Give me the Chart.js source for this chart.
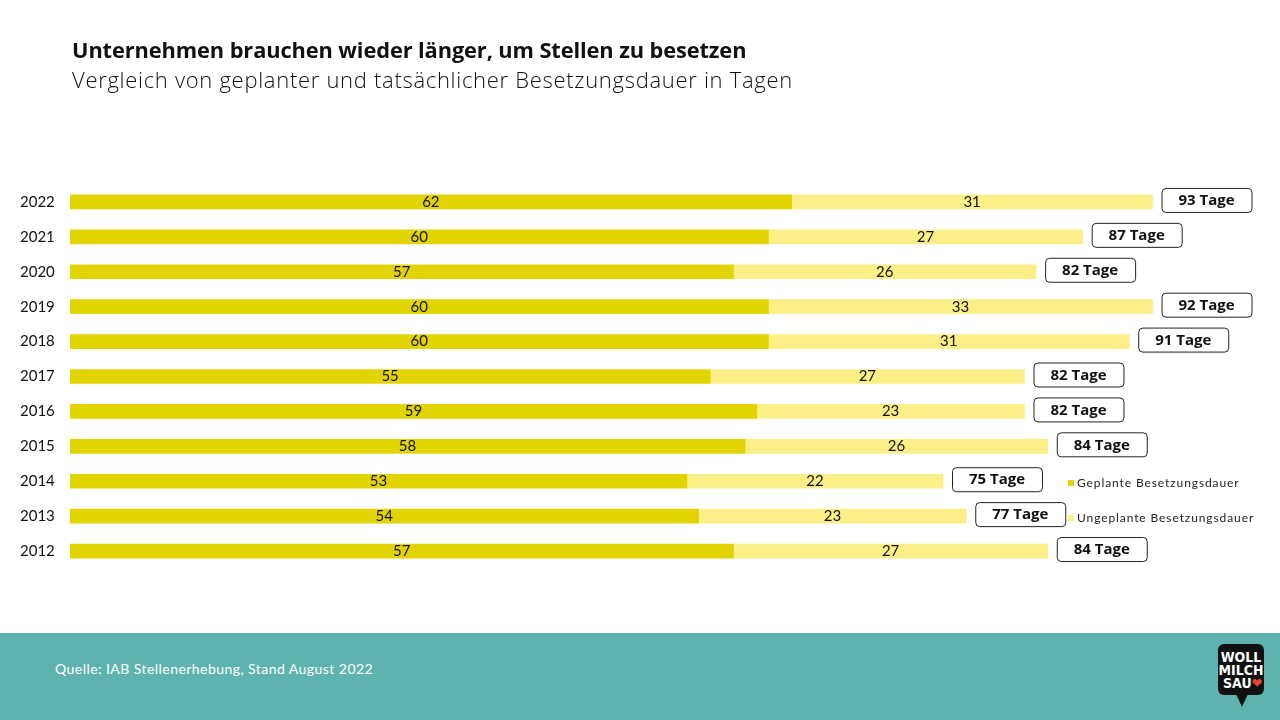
<!DOCTYPE html>
<html><head><meta charset="utf-8">
<script src="https://cdn.jsdelivr.net/npm/chart.js@4"></script>
<style>
html,body{margin:0;padding:0;background:#fff;}
#wrap{position:relative;width:1280px;height:720px;overflow:hidden;font-family:Lato,"Open Sans",sans-serif;}
#title{position:absolute;left:72px;top:35px;font-family:"Open Sans",sans-serif;font-size:21.8px;font-weight:700;color:#111;white-space:nowrap;letter-spacing:-0.1px;}
#subtitle{position:absolute;left:72px;top:64px;font-family:"Open Sans",sans-serif;font-size:22px;font-weight:300;color:#111;white-space:nowrap;letter-spacing:0.7px;}
#cv{position:absolute;left:0;top:0;}
#footer{position:absolute;left:0;top:633px;width:1280px;height:87px;background:#5fb3ae;}
#source{position:absolute;left:55px;top:27px;font-size:14px;color:#fff;letter-spacing:0.45px;}
#logo{position:absolute;left:1218px;top:11px;width:46px;height:51px;background:#111;border-radius:6px;}
#logo .t{position:absolute;left:0;width:46px;text-align:center;color:#fff;font-family:"Liberation Sans Narrow","DejaVu Sans Condensed",sans-serif;font-weight:700;font-size:14px;line-height:13px;}
#tail{position:absolute;left:1236px;top:61px;width:0;height:0;border-left:6px solid transparent;border-right:6px solid transparent;border-top:13px solid #111;}
</style></head>
<body>
<div id="wrap">
<canvas id="cv" width="1280" height="633"></canvas>
<div id="title">Unternehmen brauchen wieder länger, um Stellen zu besetzen</div>
<div id="subtitle">Vergleich von geplanter und tatsächlicher Besetzungsdauer in Tagen</div>
<div id="footer">
  <div id="source">Quelle: IAB Stellenerhebung, Stand August 2022</div>
  <div id="logo">
    <div class="t" style="top:7px">WOLL</div>
    <div class="t" style="top:20px">MILCH</div>
    <div class="t" style="top:33px;text-align:left;padding-left:5px;width:41px">SAU<span style="color:#e8452c">&#10084;</span></div>
  </div>
  <div id="tail"></div>
</div>
</div>
<script>
const years = ["2022","2021","2020","2019","2018","2017","2016","2015","2014","2013","2012"];
const geplant = [62,60,57,60,60,55,59,58,53,54,57];
const ungeplant = [31,27,26,33,31,27,23,26,22,23,27];
const totals = [93,87,82,92,91,82,82,84,75,77,84];
const seriesNames = ["Geplante Besetzungsdauer","Ungeplante Besetzungsdauer"];
const colors = ["#e2d400","#fcef87"];

const labelPlugin = {
  id:'segLabels',
  afterDatasetsDraw(chart){
    const ctx = chart.ctx;
    ctx.save();
    ctx.font = '15px Lato, "Open Sans", sans-serif';
    ctx.fillStyle = '#111';
    ctx.textAlign = 'center';
    ctx.textBaseline = 'middle';
    chart.data.datasets.forEach((ds,di)=>{
      const meta = chart.getDatasetMeta(di);
      meta.data.forEach((el,i)=>{
        ctx.fillText(String(ds.data[i]), (el.x+el.base)/2, el.y);
      });
    });
    // total boxes
    const meta = chart.getDatasetMeta(1);
    ctx.font = 'bold 15px "Open Sans", Lato, sans-serif';
    meta.data.forEach((el,i)=>{
      const x0 = el.x + 9, w = 90, h = 24, y0 = el.y - 14;
      ctx.beginPath();
      ctx.roundRect(x0+0.5, y0+0.5, w, h, 4);
      ctx.fillStyle = '#fff';
      ctx.fill();
      ctx.lineWidth = 1;
      ctx.strokeStyle = '#222';
      ctx.stroke();
      ctx.fillStyle = '#111';
      ctx.fillText(totals[i] + ' Tage', x0 + w/2, y0 + h/2 + 1);
    });
    // legend
    ctx.font = '12px Lato, "Open Sans", sans-serif';
    ctx.textAlign = 'left';
    ctx.letterSpacing = '0.9px';
    const ly = [483, 518];
    seriesNames.forEach((n,k)=>{
      ctx.fillStyle = colors[k];
      ctx.fillRect(1068, ly[k]-3, 6, 6);
      ctx.fillStyle = '#222';
      ctx.fillText(n, 1077, ly[k]);
    });
    ctx.restore();
  }
};

new Chart(document.getElementById('cv'), {
  type:'bar',
  data:{
    labels: years,
    datasets:[
      {label:seriesNames[0], data:geplant, backgroundColor:colors[0], barThickness:14},
      {label:seriesNames[1], data:ungeplant, backgroundColor:colors[1], barThickness:14}
    ]
  },
  options:{
    indexAxis:'y',
    responsive:false,
    animation:false,
    layout:{padding:{left:20,right:46,top:184.5,bottom:64.5}},
    plugins:{legend:{display:false},tooltip:{enabled:false}},
    scales:{
      x:{stacked:true,min:0,max:100,display:false,grid:{display:false}},
      y:{stacked:true,grid:{display:false},border:{display:false},
         afterFit(s){s.width=50;},
         ticks:{crossAlign:'far',padding:0,color:'#111',font:{size:15,family:'Lato, "Open Sans", sans-serif'}}}
    }
  },
  plugins:[labelPlugin]
});
</script>
</body></html>
